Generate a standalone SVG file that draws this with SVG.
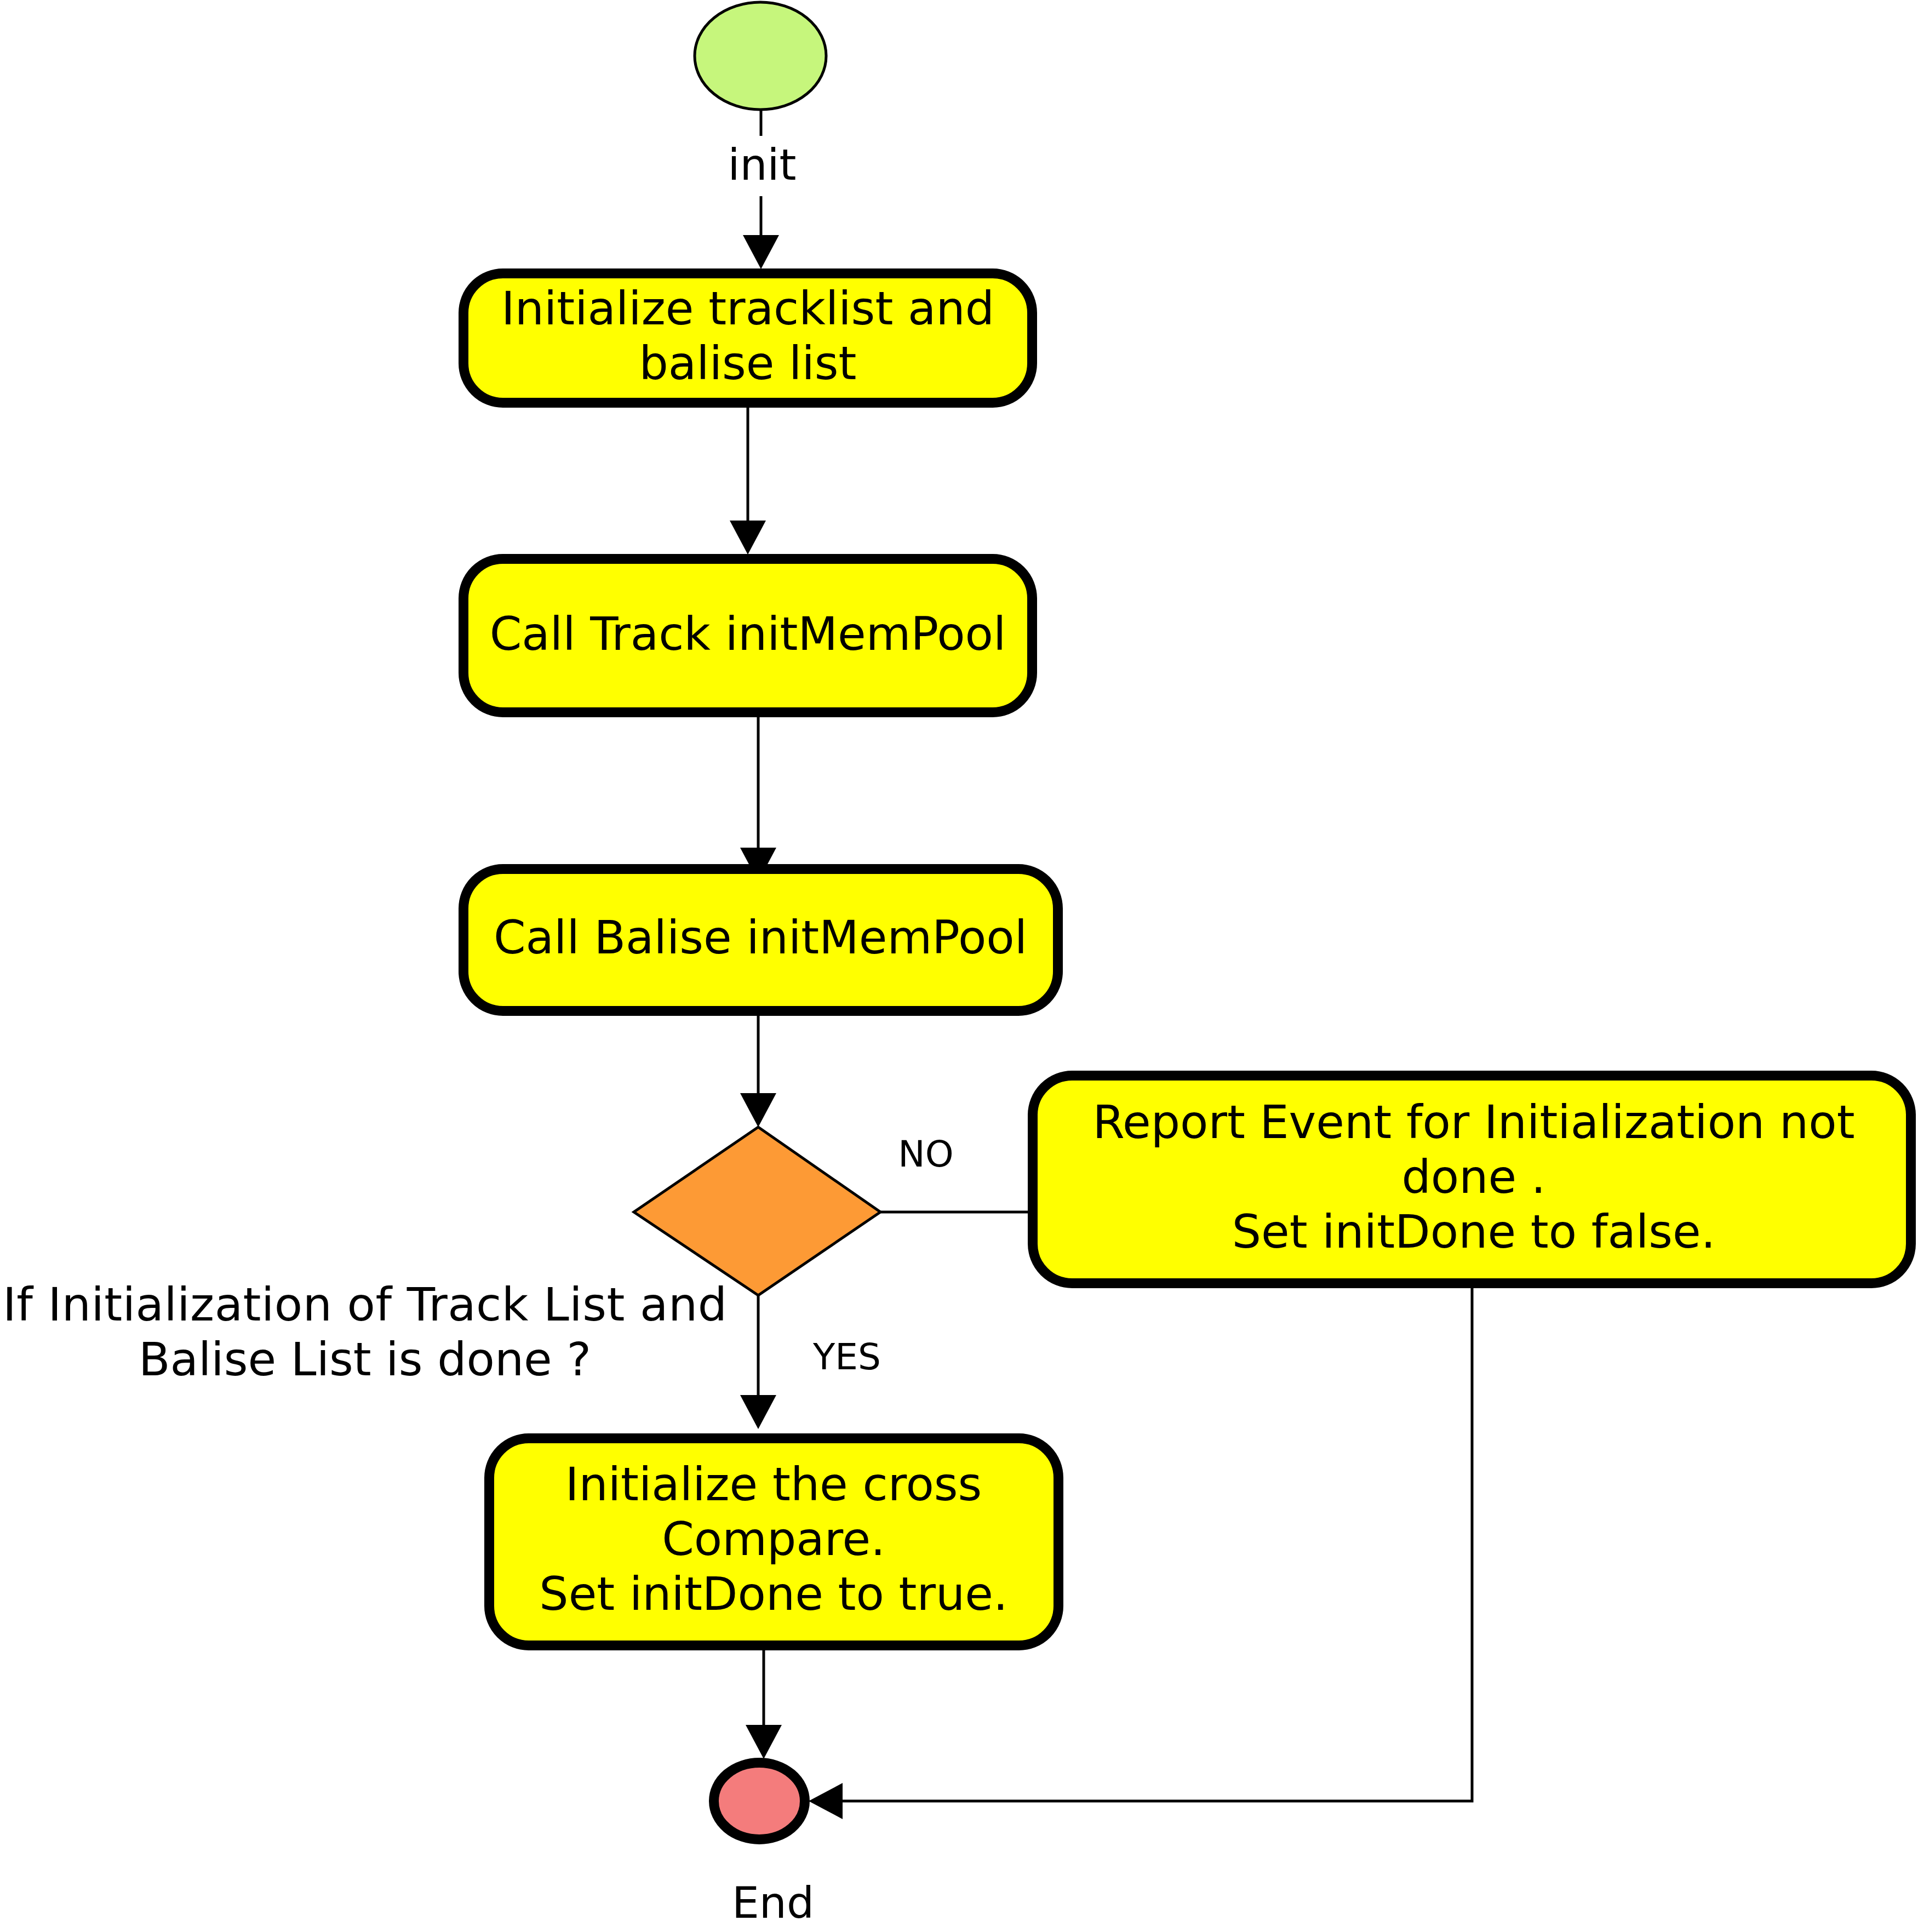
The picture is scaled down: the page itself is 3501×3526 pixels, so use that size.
<svg xmlns="http://www.w3.org/2000/svg" width="3501" height="3526" viewBox="0 0 3501 3526">
<defs>
<style>
.txt{font-family:"DejaVu Sans",Verdana,sans-serif;font-size:84px;fill:#000;text-anchor:middle}
.lbl{font-family:"DejaVu Sans",Verdana,sans-serif;font-size:66px;fill:#000;text-anchor:middle}
.ev{font-family:"DejaVu Sans",Verdana,sans-serif;font-size:79px;fill:#000;text-anchor:middle}
.box{fill:#ffff00;stroke:#000;stroke-width:18}
.con{fill:none;stroke:#000;stroke-width:5}
</style>
<marker id="arr" markerUnits="userSpaceOnUse" markerWidth="64" markerHeight="68" refX="0" refY="33" orient="auto" overflow="visible">
<path d="M0,0 L62,33 L0,66 Z" fill="#000"/>
</marker>
</defs>
<rect width="3501" height="3526" fill="#fff"/>
<g id="connectors">
<path class="con" d="M1389,202 V248"/>
<path class="con" d="M1389,358 V429" marker-end="url(#arr)"/>
<path class="con" d="M1365,744 V950" marker-end="url(#arr)"/>
<path class="con" d="M1384,1309 V1547" marker-end="url(#arr)"/>
<path class="con" d="M1384,1854 V1995" marker-end="url(#arr)"/>
<path class="con" d="M1607,2212 H1880"/>
<path class="con" d="M1384,2364 V2546" marker-end="url(#arr)"/>
<path class="con" d="M1394,3012 V3148" marker-end="url(#arr)"/>
<path class="con" d="M2687,2351 V3287 H1538" marker-end="url(#arr)"/>
<text class="ev" x="1391" y="328">init</text>
<text class="lbl" x="1690" y="2129">NO</text>
<text class="lbl" x="1546" y="2499">YES</text>
</g>
<g id="start">
<ellipse cx="1388" cy="102" rx="120" ry="98" fill="#c6f67c" stroke="#000" stroke-width="5"/>
</g>
<g id="box1">
<rect class="box" x="846" y="499" width="1038" height="236" rx="72" ry="72"/>
<text class="txt" x="1365" y="592">Initialize tracklist and</text>
<text class="txt" x="1365" y="692">balise list</text>
</g>
<g id="box2">
<rect class="box" x="846" y="1020" width="1038" height="280" rx="72" ry="72"/>
<text class="txt" x="1365" y="1186">Call Track initMemPool</text>
</g>
<g id="box3">
<rect class="box" x="846" y="1586" width="1085" height="259" rx="72" ry="72"/>
<text class="txt" x="1388" y="1740">Call Balise initMemPool</text>
</g>
<g id="decision">
<polygon points="1384,2057 1607,2212 1384,2364 1157,2212" fill="#fd9a35" stroke="#000" stroke-width="5"/>
<text class="txt" x="666" y="2410" textLength="1322" lengthAdjust="spacing">If Initialization of Track List and</text>
<text class="txt" x="666" y="2510">Balise List is done ?</text>
</g>
<g id="box4">
<rect class="box" x="1885" y="1963" width="1603" height="379" rx="72" ry="72"/>
<text class="txt" x="2690" y="2077">Report Event for Initialization not</text>
<text class="txt" x="2690" y="2177">done .</text>
<text class="txt" x="2690" y="2277">Set initDone to false.</text>
</g>
<g id="box5">
<rect class="box" x="893" y="2625" width="1039" height="378" rx="72" ry="72"/>
<text class="txt" x="1412" y="2738">Initialize the cross</text>
<text class="txt" x="1412" y="2838">Compare.</text>
<text class="txt" x="1412" y="2938">Set initDone to true.</text>
</g>
<g id="end">
<ellipse cx="1386" cy="3287" rx="83" ry="70" fill="#f47c7c" stroke="#000" stroke-width="18"/>
<text class="ev" x="1411" y="3500">End</text>
</g>
</svg>
